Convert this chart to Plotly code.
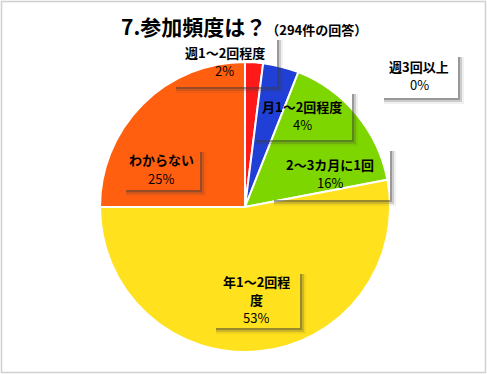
import plotly.graph_objects as go

W, H = 487, 374

categories = ["週3回以上", "週1～2回程度", "月1～2回程度", "2～3カ月に1回", "年1～2回程度", "わからない"]
percents = [0, 2, 4, 16, 53, 25]
label_lines = [["週3回以上"], ["週1～2回程度"], ["月1～2回程度"], ["2～3カ月に1回"], ["年1～2回程", "度"], ["わからない"]]
colors = ["#8FB0E0", "#FF1A1A", "#1F3FD6", "#7ED600", "#FFE11E", "#FF5F0F"]

def px(x):
    return x / W

def py(y):
    return 1 - y / H

cx, cy, r = 245, 207, 145

fig = go.Figure(go.Pie(
    labels=categories,
    values=percents,
    sort=False,
    direction="clockwise",
    rotation=0,
    marker=dict(colors=colors, line=dict(color="white", width=2)),
    textinfo="none",
    hoverinfo="label+percent",
    showlegend=False,
    domain=dict(x=[px(cx - r), px(cx + r)], y=[py(cy + r), py(cy - r)]),
))

# label boxes (pixel layout): x0, y0, x1, y1
boxes = [
    (380, 53, 458, 98),
    (172, 36, 277, 87),
    (252, 90, 352, 140),
    (270, 147, 390, 200),
    (212, 270, 300, 328),
    (122, 148, 200, 190),
]

LINE = 18
shapes = []
annotations = []
for name, lines, pct, (x0, y0, x1, y1) in zip(categories, label_lines, percents, boxes):
    # soft drop shadow strips (bottom and right)
    for k, op in [(0, 0.35), (2, 0.2), (4, 0.08)]:
        shapes.append(dict(type="rect", xref="paper", yref="paper",
                           x0=px(x0 + 4), x1=px(x1 + 2 + k), y0=py(y1 + 2 + k), y1=py(y1),
                           line=dict(width=0), fillcolor="rgba(60,60,60,%.2f)" % op))
        shapes.append(dict(type="rect", xref="paper", yref="paper",
                           x0=px(x1), x1=px(x1 + 2 + k), y0=py(y1), y1=py(y0 + 4),
                           line=dict(width=0), fillcolor="rgba(60,60,60,%.2f)" % op))
    rows = ["<b>%s</b>" % t for t in lines] + ["%d%%" % pct]
    n = len(rows)
    ymid = (y0 + y1) / 2
    for i, row in enumerate(rows):
        yy = ymid + (i - (n - 1) / 2) * LINE
        annotations.append(dict(
            x=px((x0 + x1) / 2), y=py(yy), xref="paper", yref="paper",
            text=row, showarrow=False,
            font=dict(family="Noto Sans CJK JP", size=13, color="black"),
            xanchor="center", yanchor="middle", height=LINE - 1,
        ))

annotations.append(dict(
    x=px(244), y=py(26), xref="paper", yref="paper", showarrow=False,
    text="<b>7.参加頻度は？</b><span style='font-size:13px'><b>（294件の回答）</b></span>",
    font=dict(family="Noto Sans CJK JP", size=21, color="black"),
    xanchor="center", yanchor="middle",
))

shapes.append(dict(type="rect", xref="paper", yref="paper",
                   x0=px(1.5), x1=px(485.5), y0=py(372.5), y1=py(1.5),
                   line=dict(color="#D0D0D0", width=1.5), fillcolor="rgba(0,0,0,0)"))

fig.update_layout(
    width=W, height=H,
    margin=dict(l=0, r=0, t=0, b=0),
    paper_bgcolor="white", plot_bgcolor="white",
    shapes=shapes, annotations=annotations,
)

fig.write_html("out.html", config={"displayModeBar": False},
               post_script="document.body.style.margin='0';document.body.style.overflow='hidden';")
